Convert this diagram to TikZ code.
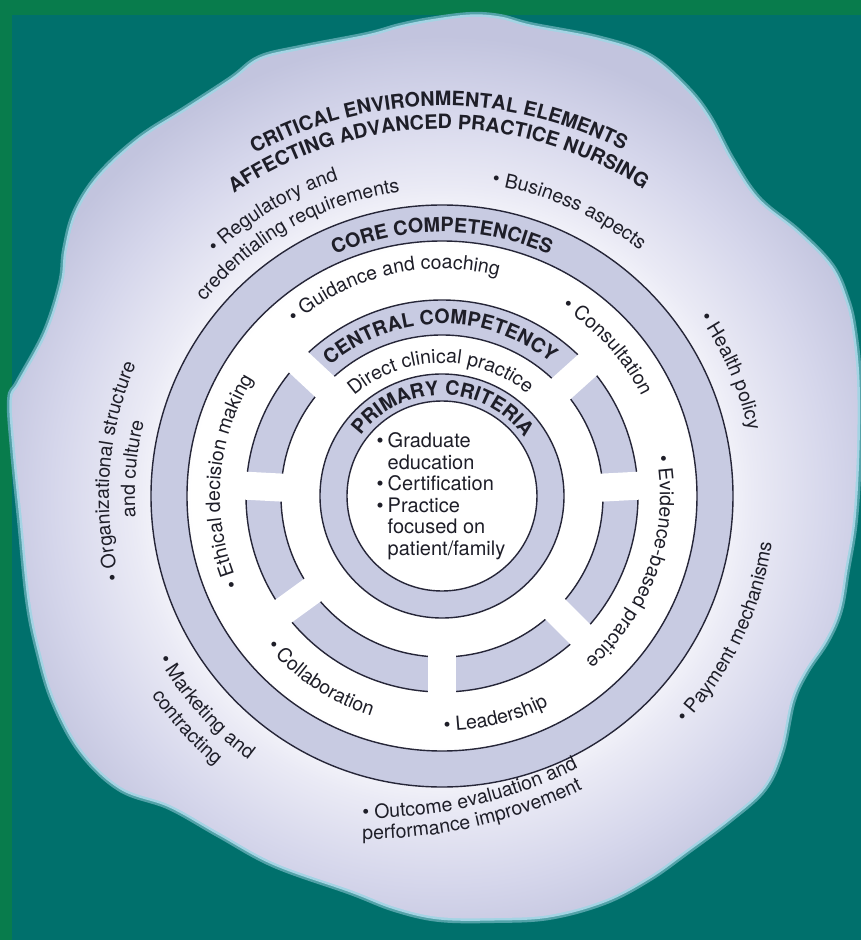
\documentclass[tikz,border=0pt]{standalone}
\usepackage{fontspec}
\setmainfont{TeX Gyre Heros}
\usetikzlibrary{decorations.text}
\definecolor{frame}{HTML}{087C4C}
\definecolor{teal0}{HTML}{00706C}
\definecolor{rim}{HTML}{A4D4E4}
\definecolor{lavA}{HTML}{EAEAF5}
\definecolor{lavB}{HTML}{D5D6EB}
\definecolor{lavC}{HTML}{C2C4DE}
\definecolor{bandc}{HTML}{C8CBE2}
\definecolor{ink}{HTML}{1E1E28}
\definecolor{lnc}{HTML}{262638}
\pgfdeclareradialshading{blobsh}{\pgfpoint{0bp}{0bp}}{color(0bp)=(white); color(12.5bp)=(white); color(15.5bp)=(lavA); color(19.5bp)=(lavB); color(23bp)=(lavC); color(25bp)=(lavC); color(50bp)=(lavC)}
\newcommand\lab{\fontsize{19.5}{22}\selectfont}
\newcommand\labb{\fontsize{19.8}{22}\selectfont\bfseries}
% clockwise text (top style): #1 centre, #2 radius, #3 mid angle, #4 text
\newcommand\cwtext[4]{\path[shift={(#1)},decorate,decoration={text along path,text align=center,text color=ink,text={#4}}] ({#3+70}:#2) arc[start angle={#3+70}, end angle={#3-70}, radius=#2];}
% counter-clockwise text (bottom style)
\newcommand\ccwtext[4]{\path[shift={(#1)},decorate,decoration={text along path,text align=center,text color=ink,text={#4}}] ({#3-70}:#2) arc[start angle={#3-70}, end angle={#3+70}, radius=#2];}
\tikzset{
  ringline/.style={draw=lnc, line width=1.4pt},
  gapstrip/.style={fill=white, draw=none},
}
\begin{document}
\begin{tikzpicture}[x=1pt,y=1pt]
\useasboundingbox (-442,-444) rectangle (419,496);
% background
\fill[frame] (-442,-444) rectangle (419,496);
\fill[teal0] (-430,-444) rectangle (419,481);
% blob glow
\draw[rim!50!teal0, line width=10pt] plot[smooth cycle, tension=0.6] coordinates {
(-75,459) (-42,468) (-12,474) (28,479) (58,477) (88,469) (155,456) (205,439) (241,409) (265,379) (288,336) (315,296) (355,263) (388,229) (403,196) (410,166) (415,116) (415,46) (411,-24) (403,-74) (396,-114) (383,-144) (363,-174) (349,-204) (338,-254) (321,-291) (288,-321) (244,-354) (206,-381) (162,-404) (107,-419) (52,-422) (-3,-421) (-47,-411) (-91,-394) (-167,-367) (-222,-337) (-272,-309) (-321,-291) (-360,-254) (-387,-204) (-402,-154) (-412,-104) (-420,-24) (-427,46) (-430,96) (-422,113) (-395,163) (-379,213) (-375,246) (-365,283) (-342,319) (-302,356) (-255,386) (-209,416) (-182,436) (-142,446)};
\draw[rim, line width=5pt] plot[smooth cycle, tension=0.6] coordinates {
(-75,459) (-42,468) (-12,474) (28,479) (58,477) (88,469) (155,456) (205,439) (241,409) (265,379) (288,336) (315,296) (355,263) (388,229) (403,196) (410,166) (415,116) (415,46) (411,-24) (403,-74) (396,-114) (383,-144) (363,-174) (349,-204) (338,-254) (321,-291) (288,-321) (244,-354) (206,-381) (162,-404) (107,-419) (52,-422) (-3,-421) (-47,-411) (-91,-394) (-167,-367) (-222,-337) (-272,-309) (-321,-291) (-360,-254) (-387,-204) (-402,-154) (-412,-104) (-420,-24) (-427,46) (-430,96) (-422,113) (-395,163) (-379,213) (-375,246) (-365,283) (-342,319) (-302,356) (-255,386) (-209,416) (-182,436) (-142,446)};
\begin{scope}
\clip plot[smooth cycle, tension=0.6] coordinates {
(-75,459) (-42,468) (-12,474) (28,479) (58,477) (88,469) (155,456) (205,439) (241,409) (265,379) (288,336) (315,296) (355,263) (388,229) (403,196) (410,166) (415,116) (415,46) (411,-24) (403,-74) (396,-114) (383,-144) (363,-174) (349,-204) (338,-254) (321,-291) (288,-321) (244,-354) (206,-381) (162,-404) (107,-419) (52,-422) (-3,-421) (-47,-411) (-91,-394) (-167,-367) (-222,-337) (-272,-309) (-321,-291) (-360,-254) (-387,-204) (-402,-154) (-412,-104) (-420,-24) (-427,46) (-430,96) (-422,113) (-395,163) (-379,213) (-375,246) (-365,283) (-342,319) (-302,356) (-255,386) (-209,416) (-182,436) (-142,446)};
\shade[shading=blobsh] (0,0) circle (500);
\end{scope}
% core competencies band
\fill[bandc, even odd rule] (0,0) circle (291) (0,0) circle (255);
\draw[ringline] (0,0) circle (291);
\draw[ringline] (0,0) circle (255);
% segmented middle ring
\fill[bandc, even odd rule] (0,0) circle (196) (0,0) circle (161);
\draw[ringline] (0,0) circle (196);
\draw[ringline] (0,0) circle (161);
\foreach \g in {42,3,-45,-90,-144,177,137}{
  \fill[gapstrip, rotate=\g] (150,-14) rectangle (206,14);
}
% primary criteria band
\fill[bandc, even odd rule] (0,0) circle (122) (0,0) circle (95);
\draw[ringline] (0,0) circle (122);
\draw[ringline] (0,0) circle (95);
% centre text
\node[font=\fontsize{20}{21.5}\selectfont, text=ink, inner sep=0pt] (crit) at (-1,-1)
 {\begin{tabular}{@{}l@{\hspace{4pt}}l@{}}•&Graduate\\&education\\•&Certification\\•&Practice\\&focused on\\&patient/family\end{tabular}};
% bold ring titles
\cwtext{0,0}{390}{90.5}{|\labb|CRITICAL ENVIRONMENTAL ELEMENTS}
\cwtext{0,0}{367}{90.6}{|\labb|AFFECTING ADVANCED PRACTICE NURSING}
\cwtext{0,0}{264}{90}{|\labb|CORE COMPETENCIES}
\cwtext{0,0}{172}{90.7}{|\labb|CENTRAL COMPETENCY}
\cwtext{0,0}{101}{89.5}{|\labb|PRIMARY CRITERIA}
\cwtext{0,0}{133}{90.7}{|\lab|Direct clinical practice}
% environmental elements
\cwtext{0,0}{332}{120.6}{|\lab|• Regulatory and}
\cwtext{0,0}{307}{119.3}{|\lab|credentialing requirements}
\cwtext{0,0}{315}{66}{|\lab|• Business aspects}
\cwtext{0,0}{313}{23.4}{|\lab|• Health policy}
\cwtext{0,0}{333}{175.6}{|\lab|• Organizational structure}
\cwtext{0,0}{307}{175}{|\lab|and culture}
\ccwtext{0,0}{333}{-25.6}{|\lab|• Payment mechanisms}
\ccwtext{0,0}{327}{221.8}{|\lab|• Marketing and}
\ccwtext{0,0}{352}{222.2}{|\lab|contracting}
\ccwtext{-75,150}{472}{283}{|\lab|• Outcome evaluation and}
\ccwtext{-75,150}{493}{282.7}{|\lab|performance improvement}
% core competencies
\cwtext{0,0}{227}{103}{|\lab|• Guidance and coaching}
\cwtext{0,0}{223}{42}{|\lab|• Consultation}
\cwtext{0,0}{218}{-19.3}{|\lab|• Evidence-based practice}
\cwtext{0,0}{222}{176}{|\lab|• Ethical decision making}
\ccwtext{0,0}{231}{236.4}{|\lab|• Collaboration}
\ccwtext{0,0}{235}{-76.3}{|\lab|• Leadership}
\end{tikzpicture}
\end{document}
